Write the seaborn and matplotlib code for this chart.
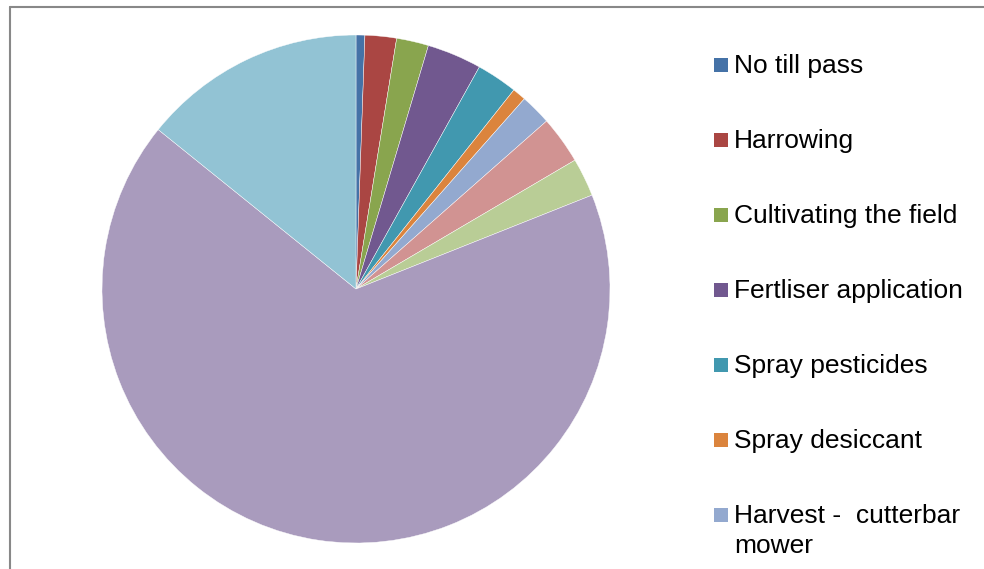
import matplotlib
matplotlib.use("Agg")
import matplotlib.pyplot as plt
from matplotlib.lines import Line2D
from matplotlib.patches import Rectangle
import seaborn as sns

# ---- data ----
categories = [
    "No till pass",
    "Harrowing",
    "Cultivating the field",
    "Fertliser application",
    "Spray pesticides",
    "Spray desiccant",
    "Harvest -  cutterbar\nmower",
    "Category 8",
    "Category 9",
    "Category 10",
    "Category 11",
]
shares = [0.56, 2.0, 2.04, 3.47, 2.6, 0.86, 1.97, 3.03, 2.44, 66.8, 14.2]
colors = ["#4572A7", "#AA4643", "#89A54E", "#71588F", "#4198AF", "#DB843D",
          "#93A9CF", "#D19392", "#B9CD96", "#A99BBD", "#92C3D4"]
n_legend_visible = 7

sns.set_theme(style="white")
plt.rcParams['font.family'] = ['Liberation Sans', 'DejaVu Sans']
palette = sns.color_palette(colors)

W, H = 984, 569
fig = plt.figure(figsize=(W / 100, H / 100), dpi=100)

# chart frame (cut off at right and bottom)
fig.add_artist(Line2D([9.5 / W, 1.0], [1 - 6.5 / H, 1 - 6.5 / H],
                      color="#888888", lw=1.5, transform=fig.transFigure))
fig.add_artist(Line2D([9.5 / W, 9.5 / W], [1 - 6.5 / H, 0.0],
                      color="#888888", lw=1.5, transform=fig.transFigure))

cx, cy, r = 356, 289, 254
ax = fig.add_axes([(cx - r) / W, (H - cy - r) / H, 2 * r / W, 2 * r / H])
wedges, _ = ax.pie(shares, colors=palette, startangle=90, counterclock=False,
                   radius=1.0,
                   wedgeprops=dict(edgecolor="white", linewidth=0.3))
ax.set_xlim(-1, 1)
ax.set_ylim(-1, 1)
ax.set_aspect("equal")
ax.axis("off")

# legend (Excel style: first line aligned with the marker; lower entries cut off)
row0, row_step, sq, line_px = 65, 75, 14, 30
for i in range(n_legend_visible):
    yc = row0 + i * row_step
    fig.add_artist(Rectangle((714 / W, 1 - (yc + sq / 2) / H), sq / W, sq / H,
                             facecolor=wedges[i].get_facecolor(), edgecolor="none",
                             transform=fig.transFigure))
    for k, line in enumerate(categories[i].split("\n")):
        fig.text(734 / W, 1 - (yc + 8 + k * line_px) / H, line, fontsize=19,
                 color="black", ha="left", va="baseline")

fig.savefig("out.png", dpi=100)
